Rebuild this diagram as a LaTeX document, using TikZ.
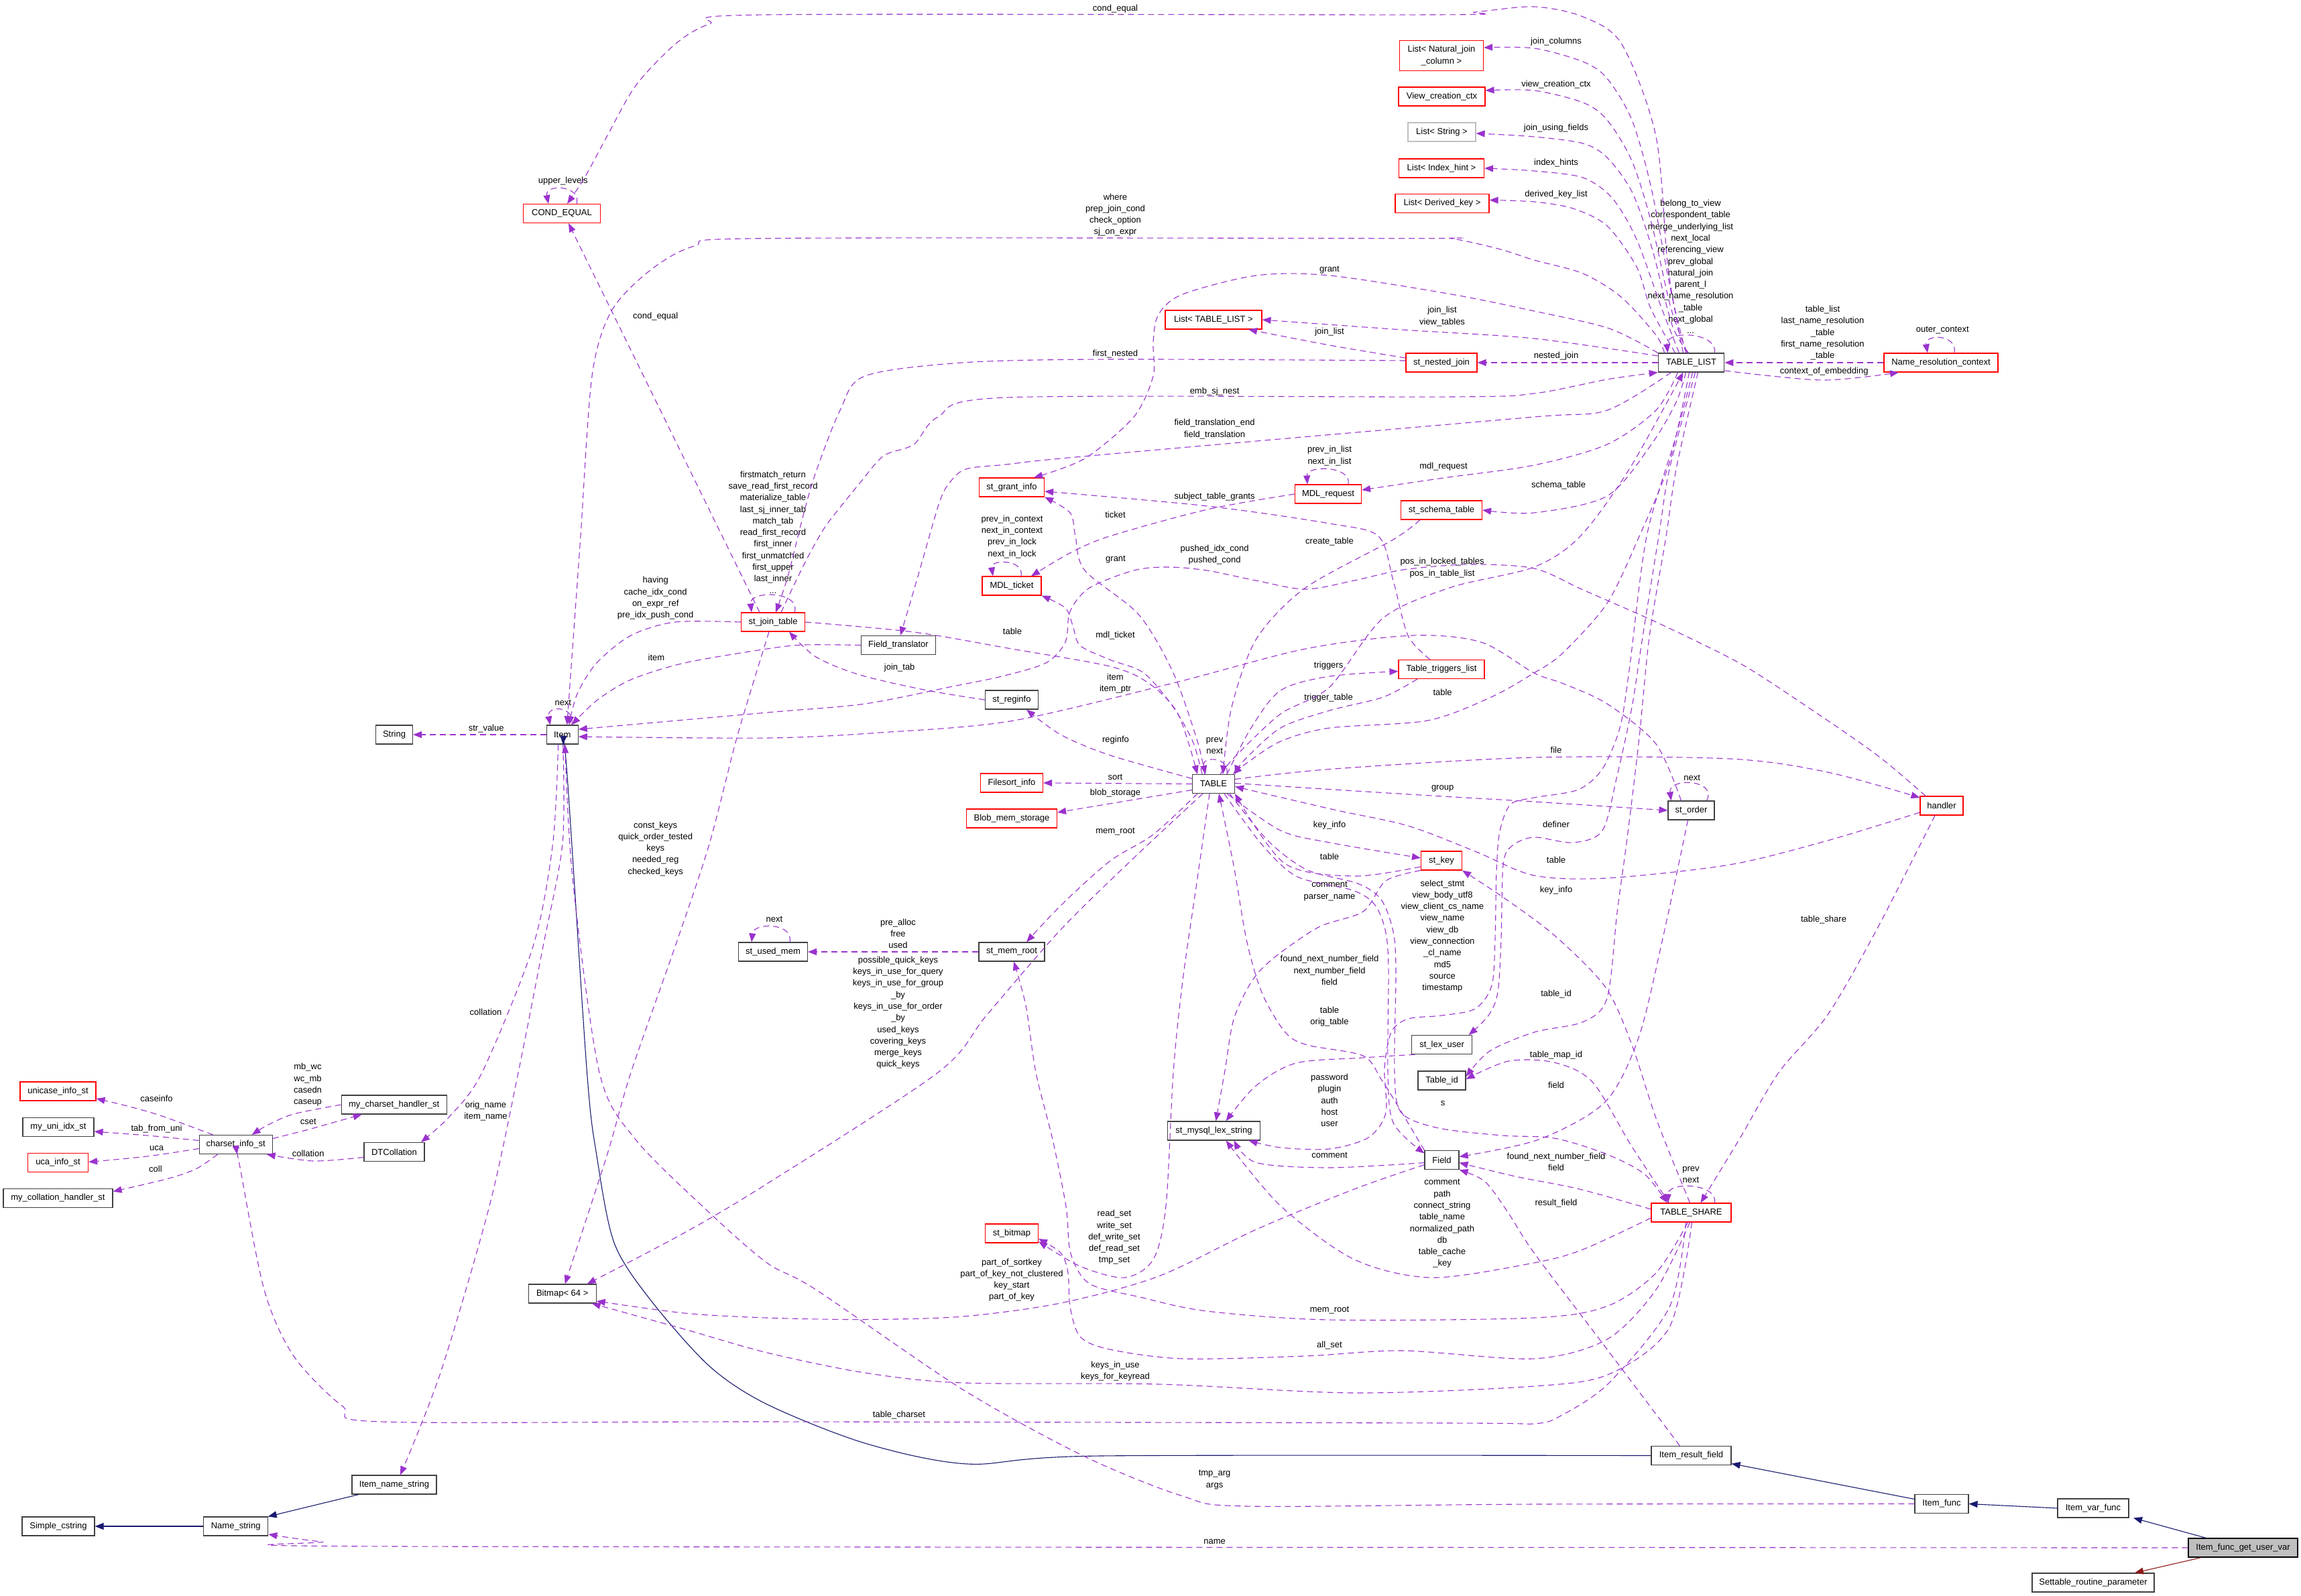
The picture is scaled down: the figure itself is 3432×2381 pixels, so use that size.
\documentclass[tikz,border=0pt]{standalone}
\usepackage{fontspec}
\setmainfont{Liberation Sans}
\usetikzlibrary{arrows.meta}
\definecolor{edgec}{HTML}{9A32CD}
\definecolor{inhc}{HTML}{191970}
\definecolor{privc}{HTML}{8B1A1A}
\definecolor{redb}{HTML}{FF0000}
\definecolor{grayb}{HTML}{BFBFBF}
\definecolor{blackb}{HTML}{404040}
\begin{document}
\begin{tikzpicture}[x=1bp,y=-1bp,
  every node/.style={font=\fontsize{13.05}{17.35}\selectfont},
  cls/.style={draw=blackb, line width=1.1bp, minimum height=28bp, inner sep=0pt, fill=white},
  rcls/.style={cls, draw=redb},
  gcls/.style={cls, draw=grayb},
  lb/.style={align=center, inner sep=0pt},
  coll/.style={draw=edgec, line width=1.1bp, dash pattern=on 9bp off 6bp, -{Triangle[length=13bp,width=10bp]}},
  inher/.style={draw=inhc, line width=1.1bp, -{Triangle[length=13bp,width=10bp]}},
  priv/.style={draw=privc, line width=1.1bp, -{Triangle[length=13bp,width=10bp]}}]
\fill[white] (0,0) rectangle (3432,2381);
\useasboundingbox (0,0) rectangle (3432,2381);

% ---------------- nodes ----------------
\node[rcls, minimum width=115bp] (condeq) at (838,318.6) {COND\_EQUAL};
\node[rcls, minimum width=125bp, minimum height=45.5bp, align=center] (lnjc) at (2150,83) {List< Natural\_join\\\_column >};
\node[rcls, minimum width=129bp] (vcc) at (2150.5,144) {View\_creation\_ctx};
\node[gcls, minimum width=101bp] (lstr) at (2150.5,197) {List< String >};
\node[rcls, minimum width=127bp] (lih) at (2150,251) {List< Index\_hint >};
\node[rcls, minimum width=140bp] (ldk) at (2151,303.5) {List< Derived\_key >};
\node[rcls, minimum width=144bp] (ltl) at (1810,477) {List< TABLE\_LIST >};
\node[rcls, minimum width=106bp] (nj) at (2150,541) {st\_nested\_join};
\node[cls, minimum width=98.5bp] (tl) at (2522.5,541) {TABLE\_LIST};
\node[rcls, minimum width=170bp] (nrc) at (2895,541) {Name\_resolution\_context};
\node[rcls, minimum width=97bp] (gi) at (1509,727) {st\_grant\_info};
\node[rcls, minimum width=99bp] (mreq) at (1981,737) {MDL\_request};
\node[rcls, minimum width=121bp] (schema) at (2150,761) {st\_schema\_table};
\node[rcls, minimum width=95bp] (jt) at (1153,928) {st\_join\_table};
\node[cls, minimum width=111bp] (ft) at (1340,962.5) {Field\_translator};
\node[rcls, minimum width=88bp] (mtk) at (1509,874) {MDL\_ticket};
\node[cls, minimum width=79bp] (reg) at (1509,1044) {st\_reginfo};
\node[rcls, minimum width=128bp] (ttl) at (2150,998.5) {Table\_triggers\_list};
\node[cls, minimum width=63bp] (table) at (1810,1169.5) {TABLE};
\node[rcls, minimum width=93bp] (fsi) at (1509,1168) {Filesort\_info};
\node[rcls, minimum width=135bp] (bms) at (1509,1221) {Blob\_mem\_storage};
\node[rcls, minimum width=61bp] (key) at (2150,1284) {st\_key};
\node[cls, minimum width=103bp] (um) at (1153,1420) {st\_used\_mem};
\node[cls, minimum width=98bp] (mr) at (1509,1420) {st\_mem\_root};
\node[rcls, minimum width=64bp] (hdl) at (2896,1202) {handler};
\node[cls, minimum width=69bp] (ord) at (2522.5,1209) {st\_order};
\node[cls, minimum width=47bp] (item) at (838.7,1096) {Item};
\node[cls, minimum width=55bp] (str) at (588,1096) {String};
\node[cls, minimum width=89.5bp] (lu) at (2150.6,1558.6) {st\_lex\_user};
\node[cls, minimum width=71bp] (tid) at (2150.5,1612) {Table\_id};
\node[cls, minimum width=51bp] (field) at (2150.5,1730.6) {Field};
\node[rcls, minimum width=119bp] (ts) at (2522.5,1809) {TABLE\_SHARE};
\node[cls, minimum width=138bp] (mls) at (1810.5,1687) {st\_mysql\_lex\_string};
\node[rcls, minimum width=79bp] (bmp) at (1509,1840) {st\_bitmap};
\node[cls, minimum width=101bp] (b64) at (838.7,1930) {Bitmap< 64 >};
\node[rcls, minimum width=113bp] (uci) at (86.5,1628) {unicase\_info\_st};
\node[cls, minimum width=106bp] (uix) at (87,1681.5) {my\_uni\_idx\_st};
\node[rcls, minimum width=90bp] (uca) at (86.5,1734.5) {uca\_info\_st};
\node[cls, minimum width=163bp] (mch) at (86.5,1787.5) {my\_collation\_handler\_st};
\node[cls, minimum width=109bp] (csi) at (351.7,1707.5) {charset\_info\_st};
\node[cls, minimum width=157bp] (mcs) at (587.7,1648) {my\_charset\_handler\_st};
\node[cls, minimum width=90bp] (dtc) at (588,1718.5) {DTCollation};
\node[cls, minimum width=126bp] (ins) at (588,2215) {Item\_name\_string};
\node[cls, minimum width=96bp] (nms) at (351.7,2277) {Name\_string};
\node[cls, minimum width=108bp] (scs) at (87,2277) {Simple\_cstring};
\node[cls, minimum width=119bp] (irf) at (2522.5,2171.5) {Item\_result\_field};
\node[cls, minimum width=80bp] (ifn) at (2896,2243.5) {Item\_func};
\node[cls, minimum width=106bp] (ivf) at (3122,2250) {Item\_var\_func};
\node[cls, minimum width=163bp, fill=grayb, draw=black] (main) at (3345.5,2309) {Item\_func\_get\_user\_var};
\node[cls, minimum width=182bp] (srp) at (3122,2361) {Settable\_routine\_parameter};

% ---------------- labels ----------------
\node[lb] (t01) at (1663.5,12.8) {cond\_equal};
\node[lb] (t02) at (839.8,270.4) {upper\_levels};
\node[lb] (t03) at (977.7,472.4) {cond\_equal};
\node[lb] (t04) at (1663.5,320.7) {where\\prep\_join\_cond\\check\_option\\sj\_on\_expr};
\node[lb] (t05) at (2321,62.2) {join\_columns};
\node[lb] (t06) at (2321,126.5) {view\_creation\_ctx};
\node[lb] (t07) at (2321,191.3) {join\_using\_fields};
\node[lb] (t08) at (2321,243.4) {index\_hints};
\node[lb] (t09) at (2321,290.3) {derived\_key\_list};
\node[lb] (t10) at (2521.5,398) {belong\_to\_view\\correspondent\_table\\merge\_underlying\_list\\next\_local\\referencing\_view\\prev\_global\\natural\_join\\parent\_l\\next\_name\_resolution\\\_table\\next\_global\\...};
\node[lb] (t11) at (1983,403) {grant};
\node[lb] (t12) at (2151,472) {join\_list\\view\_tables};
\node[lb] (t13) at (1983,495) {join\_list};
\node[lb] (t14) at (2321,531.6) {nested\_join};
\node[lb] (t15) at (1663.5,527.6) {first\_nested};
\node[lb] (t16) at (1811.6,584.2) {emb\_sj\_nest};
\node[lb] (t17) at (1811.6,640) {field\_translation\_end\\field\_translation};
\node[lb] (t18) at (979,980.6) {item};
\node[lb] (t19) at (977.7,892.3) {having\\cache\_idx\_cond\\on\_expr\_ref\\pre\_idx\_push\_cond};
\node[lb] (t20) at (839.8,1048) {next};
\node[lb] (t21) at (725.2,1086.7) {str\_value};
\node[lb] (t22) at (1664,834.7) {grant};
\node[lb] (t23) at (1663.5,948.5) {mdl\_ticket};
\node[lb] (t24) at (1983,807.7) {create\_table};
\node[lb] (t25) at (2324.5,724.5) {schema\_table};
\node[lb] (t26) at (2153,696.4) {mdl\_request};
\node[lb] (t27) at (1983,680.1) {prev\_in\_list\\next\_in\_list};
\node[lb] (t28) at (1663.5,767.9) {ticket};
\node[lb] (t29) at (1509.5,800.8) {prev\_in\_context\\next\_in\_context\\prev\_in\_lock\\next\_in\_lock};
\node[lb] (t30) at (1811.6,740.8) {subject\_table\_grants};
\node[lb] (t31) at (1981.6,992.9) {triggers};
\node[lb] (t32) at (1981.6,1040.8) {trigger\_table};
\node[lb] (t33) at (2151.6,1032.7) {table};
\node[lb] (t34) at (2151,847) {pos\_in\_locked\_tables\\pos\_in\_table\_list};
\node[lb] (t35) at (1811.6,1112.5) {prev\\next};
\node[lb] (t36) at (1664,1104) {reginfo};
\node[lb] (t37) at (1341.7,995.7) {join\_tab};
\node[lb] (t38) at (1510,942.3) {table};
\node[lb] (t39) at (1663.5,1159.7) {sort};
\node[lb] (t40) at (1663.5,1182.7) {blob\_storage};
\node[lb] (t41) at (1663.5,1240.3) {mem\_root};
\node[lb] (t42) at (1339.5,1392.9) {pre\_alloc\\free\\used};
\node[lb] (t43) at (1155,1371) {next};
\node[lb] (t44) at (1339.5,1510.7) {possible\_quick\_keys\\keys\_in\_use\_for\_query\\keys\_in\_use\_for\_group\\\_by\\keys\_in\_use\_for\_order\\\_by\\used\_keys\\covering\_keys\\merge\_keys\\quick\_keys};
\node[lb] (t45) at (977.7,1266.3) {const\_keys\\quick\_order\_tested\\keys\\needed\_reg\\checked\_keys};
\node[lb] (t46) at (724.5,1510.2) {collation};
\node[lb] (t47) at (724.5,1657.5) {orig\_name\\item\_name};
\node[lb] (t49) at (1811.6,2207.5) {tmp\_arg\\args};
\node[lb] (t50) at (1811.6,2299.7) {name};
\node[lb] (t57) at (233.5,1639.3) {caseinfo};
\node[lb] (t58) at (233.5,1684.2) {tab\_from\_uni};
\node[lb] (t59) at (233.5,1713) {uca};
\node[lb] (t60) at (232,1743.4) {coll};
\node[lb] (t61) at (459.7,1673.2) {cset};
\node[lb] (t62) at (459,1618.5) {mb\_wc\\wc\_mb\\casedn\\caseup};
\node[lb] (t63) at (459.7,1720.5) {collation};
\node[lb] (t64) at (1341,2111.5) {table\_charset};
\node[lb] (t65) at (2151,1825.6) {comment\\path\\connect\_string\\table\_name\\normalized\_path\\db\\table\_cache\\\_key};
\node[lb] (t66) at (1983,1723.5) {comment};
\node[lb] (t67) at (1983,1329.6) {comment\\parser\_name};
\node[lb] (t68) at (1983,1641.5) {password\\plugin\\auth\\host\\user};
\node[lb] (t69) at (2151.4,1396.5) {select\_stmt\\view\_body\_utf8\\view\_client\_cs\_name\\view\_name\\view\_db\\view\_connection\\\_cl\_name\\md5\\source\\timestamp};
\node[lb] (t70) at (2321,1230) {definer};
\node[lb] (t71) at (2321,1482.7) {table\_id};
\node[lb] (t72) at (2321,1574.5) {table\_map\_id};
\node[lb] (t73) at (2321,1618.4) {field};
\node[lb] (t74) at (2321,1733.5) {found\_next\_number\_field\\field};
\node[lb] (t75) at (2321,1795.2) {result\_field};
\node[lb] (t76) at (1509,1909.6) {part\_of\_sortkey\\part\_of\_key\_not\_clustered\\key\_start\\part\_of\_key};
\node[lb] (t77) at (1662,1846) {read\_set\\write\_set\\def\_write\_set\\def\_read\_set\\tmp\_set};
\node[lb] (t78) at (1983,1955) {mem\_root};
\node[lb] (t79) at (1983,2006.9) {all\_set};
\node[lb] (t80) at (1663.5,2045.7) {keys\_in\_use\\keys\_for\_keyread};
\node[lb] (t81) at (2720,1372.4) {table\_share};
\node[lb] (t82) at (2321,1118.9) {file};
\node[lb] (t83) at (2321,1283.2) {table};
\node[lb] (t84) at (2151.6,1176) {group};
\node[lb] (t85) at (2523.7,1160.7) {next};
\node[lb] (t86) at (1663.5,1019.9) {item\\item\_ptr};
\node[lb] (t87) at (1811.6,827.8) {pushed\_idx\_cond\\pushed\_cond};
\node[lb] (t88) at (2718.5,496.8) {table\_list\\last\_name\_resolution\\\_table\\first\_name\_resolution\\\_table};
\node[lb] (t89) at (2720.7,554.6) {context\_of\_embedding};
\node[lb] (t90) at (2897.2,492.3) {outer\_context};
\node[lb] (t91) at (1153,793.9) {firstmatch\_return\\save\_read\_first\_record\\materialize\_table\\last\_sj\_inner\_tab\\match\_tab\\read\_first\_record\\first\_inner\\first\_unmatched\\first\_upper\\last\_inner\\...};
\node[lb] (t93) at (1983,1231) {key\_info};
\node[lb] (t94) at (1983,1278) {table};
\node[lb] (t95) at (2321,1328.6) {key\_info};
\node[lb] (t96) at (1983,1447.4) {found\_next\_number\_field\\next\_number\_field\\field};
\node[lb] (t97) at (2152,1646.3) {s};
\node[lb] (t98) at (1983,1516.3) {table\\orig\_table};
\node[lb] (t99) at (2522,1752.5) {prev\\next};

% ---------------- edges ----------------
% TABLE_LIST -> COND_EQUAL
\draw[coll] plot[smooth] coordinates {([xshift=-12bp]tl.north) (2488,400) (2470,204) (2419,66) (2361,25) (2288,10) (2200,18) (2140,22) (1144,22) (1058,36) (1007,66) (948,128) (905,204) (872,265) ([xshift=8bp]condeq.north)};
\draw[coll] ([xshift=22bp]condeq.north) .. controls (868,276) and (812,274) .. ([xshift=-20bp]condeq.north);
\draw[coll] ([xshift=-20bp]jt.north) -- ([xshift=10bp]condeq.south);
% where ...
\draw[coll] plot[smooth] coordinates {([xshift=-40bp]tl.north) (2470,500) (2419,444) (2361,408) (2288,388) (2238,372) (2165,356) (2100,355.6) (1144,355.6) (1036,367) (970,403) (912,464) (883,561) (866,800) (855,953) ([xshift=7bp]item.north)};
% lists
\draw[coll] plot[smooth] coordinates {([xshift=-8bp]tl.north) (2492,434) (2463,281) (2434,179) (2397,117) (2361,92) (2288,72) ([yshift=12bp]lnjc.east)};
\draw[coll] plot[smooth] coordinates {([xshift=-6bp]tl.north) (2492,459) (2463,332) (2434,240) (2397,179) (2361,153) (2288,135) ([yshift=9bp]vcc.east)};
\draw[coll] plot[smooth] coordinates {([xshift=-4bp]tl.north) (2494,485) (2463,367) (2434,286) (2397,235) (2361,214) (2288,204) ([yshift=-2bp]lstr.east)};
\draw[coll] plot[smooth] coordinates {([xshift=-18bp]tl.north) (2478,459) (2441,357) (2405,296) (2361,265) (2288,255) (lih.east)};
\draw[coll] plot[smooth] coordinates {([xshift=-24bp]tl.north) (2462,460) (2441,398) (2397,337) (2346,311) (2288,301) ([yshift=5bp]ldk.east)};
% TABLE_LIST self loop
\draw[coll] ([xshift=35bp]tl.north) .. controls (2562,495) and (2484,492) .. ([xshift=-35bp]tl.north);
% grant (TABLE_LIST)
\draw[coll] plot[smooth] coordinates {(tl.north west) (2400,490) (2288,464) (2165,439) (1983,411) (1874,411) (1764,439) (1728,469) (1720,510) (1720,561) (1691,622) (1618,684) ([xshift=33bp]gi.north)};
\draw[coll] plot[smooth] coordinates {([yshift=10bp]tl.west) (2288,505) (2092,492) (ltl.east)};
\draw[coll] plot[smooth] coordinates {([yshift=7bp]nj.west) (1983,515) ([xshift=52bp]ltl.south)};
\draw[coll] (tl.west) -- (nj.east);
% first_nested
\draw[coll] plot[smooth] coordinates {([yshift=3bp]nj.west) (1655,536) (1436,541) (1290,561) (1253,612) (1217,704) (1199,765) (1175,860) ([xshift=4bp]jt.north)};
% emb_sj_nest
\draw[coll] plot[smooth] coordinates {([xshift=12bp]jt.north) (1187,867) (1207,827) (1230,787) (1253,757) (1283,720) (1318,680) (1363,663) (1399,622) (1501.5,593) (2165,592) (2288,587) (2397,566) (tl.south west)};
% field_translation
\draw[coll] plot[smooth] coordinates {([xshift=-30bp]tl.south) (2397,612) (2288,622) (1874,658) (1582,684) (1500,693) (1440,700) (1415,722) (1400,753) (1367,867) ([xshift=3bp]ft.north)};
% item (Field_translator)
\draw[coll] plot[smooth] coordinates {(ft.west) (1200,962) (1144,968) (1021,989) (941,1014) (890,1045) ([xshift=14bp]item.north)};
% having ...
\draw[coll] plot[smooth] coordinates {(jt.west) (1007,928) (941,948) (890,989) (861,1035) ([xshift=10bp]item.north)};
% Item self loop
\draw[coll] ([xshift=14bp]item.north) .. controls (858,1052) and (815,1052) .. ([xshift=-18bp]item.north);
\draw[coll] (item.west) -- (str.east);
% grant (TABLE)
\draw[coll] plot[smooth] coordinates {([xshift=-13bp]table.north) (1786,1106) (1750,1004) (1698.5,917) (1618,851) (1604,800) (1596,765) (gi.south east)};
% mdl_ticket
\draw[coll] plot[smooth] coordinates {([xshift=-17bp]table.north) (1779,1106) (1750,1055) (1706,1004) (1655,984) (1611,963) (1600,933) (1589,907) (mtk.south east)};
% create_table
\draw[coll] plot[smooth] coordinates {([xshift=-32bp]schema.south) (2078,805) (1947,877) (1874,953) (1837,1055) ([xshift=14bp]table.north)};
% schema_table
\draw[coll] plot[smooth] coordinates {([xshift=-8bp]tl.south) (2500,600) (2463,663) (2397,740) (2288,765) (schema.east)};
% mdl_request
\draw[coll] plot[smooth] coordinates {([xshift=-20bp]tl.south) (2470,612) (2397,663) (2288,694) (2153,713) ([yshift=6bp]mreq.east)};
\draw[coll] ([xshift=30bp]mreq.north) .. controls (2016,694) and (1948,694) .. ([xshift=-31bp]mreq.north);
% ticket
\draw[coll] plot[smooth] coordinates {(mreq.west) (1801,760) (1655,800) (1596,825) ([xshift=29bp]mtk.north)};
\draw[coll] ([xshift=14bp]mtk.north) .. controls (1528,834) and (1477,834) .. ([xshift=-28bp]mtk.north);
% subject_table_grants
\draw[coll] plot[smooth] coordinates {([xshift=-17bp]ttl.north) (2100,948) (2078,866) (2056,800) (1983,781) (1801,755) ([yshift=-6bp]gi.east)};
% triggers / trigger_table
\draw[coll] plot[smooth] coordinates {([xshift=20bp]table.north) (1866,1086) (1910,1030) (1983,1009) ([yshift=-3bp]ttl.west)};
\draw[coll] plot[smooth] coordinates {([xshift=-36bp]ttl.south) (2063,1040) (1983,1060) (1910,1086) (1855,1135) (table.north east)};
% table (TABLE_LIST -> TABLE)
\draw[coll] plot[smooth] coordinates {([xshift=-3bp]tl.south) (2490,690) (2445,800) (2397,900) (2330,975) (2288,1004) (2224,1040) (2129,1075) (1983,1086) (1910,1106) (1860,1138) ([xshift=-3bp]table.north east)};
% pos_in_*
\draw[coll] plot[smooth] coordinates {([xshift=10bp]table.north) (1844,1127) (1910,1065) (1983,1025) (2063,922) (2165,876) (2288,846) (2357,800) (2430,700) ([xshift=-12bp]tl.south)};
% TABLE self loop
\draw[coll] ([xshift=20bp]table.north) .. controls (1834,1128) and (1792,1128) .. ([xshift=-12bp]table.north);
% reginfo, join_tab, table
\draw[coll] plot[smooth] coordinates {([yshift=8bp]table.west) (1655,1126.5) (1582,1096) ([xshift=22bp]reg.south)};
\draw[coll] plot[smooth] coordinates {(reg.west) (1383,1030) (1283,1007) (1217,980) ([xshift=24bp]jt.south)};
\draw[coll] plot[smooth] coordinates {(jt.east) (1363,943) (1509,968) (1655,994) (1713,1019) (1757,1065) ([xshift=-24bp]table.north)};
\draw[coll] (table.west) -- (fsi.east);
\draw[coll] ([yshift=-9bp]table.west) -- ([yshift=9bp]bms.east);
% mem_root (TABLE)
\draw[coll] plot[smooth] coordinates {([xshift=-24bp]table.south) (1720,1245) (1655,1285) (1582,1351) ([xshift=22bp]mr.north)};
\draw[coll] (mr.west) -- (um.east);
\draw[coll] ([xshift=25bp]um.north) .. controls (1184,1376) and (1124,1376) .. ([xshift=-32bp]um.north);
% possible_quick_keys
\draw[coll] plot[smooth] coordinates {([xshift=-16bp]table.south) (1691,1280) (1582,1387) (1472,1514) (1399,1600) (1144,1766) (1021,1839) ([xshift=37bp]b64.north)};
% const_keys
\draw[coll] plot[smooth] coordinates {([xshift=-6bp]jt.south) (1100,1097) (1058,1259) (1007,1412) (941,1600) (905,1724.5) ([xshift=4bp]b64.north)};
% collation (Item)
\draw[coll] plot[smooth] coordinates {([xshift=-6bp]item.south) (824.5,1259) (795,1412) (719,1600) (671,1665) ([xshift=40bp]dtc.north)};
% orig_name
\draw[coll] plot[smooth] coordinates {([xshift=1bp]item.south) (839,1259) (810,1412) (773,1600) (730,1799) (657,2048) ([xshift=9bp]ins.north)};
% inheritance Item_result_field -> Item
\draw[inher] plot[smooth] coordinates {(irf.west) (1640,2172) (1443,2184) (1290,2153) (1144,2095) (1058,2038) (970,1939) (916,1854) (890,1724) (875.5,1600) (846,1157) ([xshift=1bp]item.south)};
% tmp_arg args
\draw[coll] plot[smooth] coordinates {(ifn.west) (2288,2244) (1859,2247) (1764,2232) (1618,2173) (1436,2073) (1217,1924) (1144,1884) (1058,1809) (948,1700) (894,1600) (854,1310) ([xshift=4bp]item.south)};
% name
\draw[coll] plot[smooth] coordinates {(main.west) (600,2307) (480,2300) ([yshift=-12bp]nms.east)};
% inheritance chain
\draw[inher] ([xshift=-55bp]main.north) -- ([xshift=60bp]ivf.south);
\draw[priv] ([xshift=-62bp]main.south) -- ([xshift=62bp]srp.north);
\draw[inher] (ivf.west) -- (ifn.east);
\draw[inher] ([yshift=7bp]ifn.west) -- ([yshift=-12bp]irf.east);
\draw[inher] ([xshift=-53bp]ins.south) -- ([xshift=48bp]nms.north);
\draw[inher] (nms.west) -- (scs.east);
% charset cluster
\draw[coll] plot[smooth] coordinates {([xshift=-34bp]csi.north) (240.8,1664.7) (190,1650) ([yshift=-11bp]uci.east)};
\draw[coll] plot[smooth] coordinates {([yshift=6bp]csi.west) (220,1694) ([yshift=-6.5bp]uix.east)};
\draw[coll] plot[smooth] coordinates {([yshift=-6bp]csi.west) (220,1725) ([yshift=1bp]uca.east)};
\draw[coll] plot[smooth] coordinates {([xshift=-27bp]csi.south) (292,1744) (248,1759) ([yshift=10bp]mch.east)};
\draw[coll] plot[smooth] coordinates {([yshift=9bp]csi.east) (460,1685) ([xshift=-48bp]mcs.south)};
\draw[coll] plot[smooth] coordinates {(mcs.west) (437.8,1662) (400,1678) ([xshift=24bp]csi.north)};
\draw[coll] plot[smooth] coordinates {([yshift=-8bp]dtc.west) (467,1732) ([xshift=46bp]csi.south)};
% table_charset
\draw[coll] plot[smooth] coordinates {([xshift=-8bp]ts.south) (2490,1950) (2400,2063) (2330,2111) (2288,2124) (2165,2123) (1144,2121) (569,2121) (511,2098) (438,2023) (394,1924) (357.5,1739) ([xshift=2bp]csi.south)};
% comment path ... (TABLE_SHARE)
\draw[coll] plot[smooth] coordinates {([yshift=-8bp]ts.west) (2361,1864) (2288,1884) (2136,1906) (2020,1879) (1910,1799) ([xshift=18bp]mls.south)};
% comment (Field)
\draw[coll] plot[smooth] coordinates {([yshift=-4bp]field.west) (1983,1742) (1874,1734.5) ([xshift=30bp]mls.south)};
% comment parser_name (st_key)
\draw[coll] plot[smooth] coordinates {(key.south west) (2067,1314) (2033,1360) (1967,1383) (1900,1429) (1867,1464) (1840,1521) (1827,1597) ([xshift=3bp]mls.north)};
% password ... (st_lex_user)
\draw[coll] plot[smooth] coordinates {([xshift=-40bp]lu.south) (2033,1578) (1933,1586) (1873,1620) ([xshift=18bp]mls.north)};
% select_stmt ...
\draw[coll] plot[smooth] coordinates {([xshift=2bp]tl.south) (2500,650) (2456,800) (2430,1000) (2416,1086) (2390,1147) (2354,1178) (2288,1190) (2253,1200) (2237,1240) (2232,1300) (2230,1400) (2225,1470) (2200,1505) (2150,1515) (2100,1520) (2075,1540) (2065,1594) (2067,1660) (2041,1697) (1983,1714) (1910,1712) ([xshift=52bp]mls.south)};
% definer
\draw[coll] plot[smooth] coordinates {([xshift=6bp]tl.south) (2490,700) (2474,800) (2450,950) (2434,1055) (2412,1157) (2390,1239) (2346,1257) (2288,1249) (2255,1262) (2242,1290) (2239,1400) (2234,1480) (2220,1515) ([xshift=40bp]lu.north)};
% table_id
\draw[coll] plot[smooth] coordinates {([xshift=10bp]tl.south) (2500,700) (2485,800) (2460,950) (2445,1100) (2427,1250) (2412,1361) (2397,1489) (2361,1524.5) (2288,1540) (2222,1568) ([yshift=6bp]tid.east)};
% table_map_id
\draw[coll] plot[smooth] coordinates {([xshift=-33bp]ts.north) (2433,1709) (2375,1614) (2318,1585) (2250,1583) ([yshift=2bp]tid.east)};
% field (st_order)
\draw[coll] plot[smooth] coordinates {([xshift=-5bp]ord.south) (2480,1400) (2444,1548) (2394,1644) (2295,1700) ([yshift=5bp]field.east)};
% found_next_number_field field (TABLE_SHARE)
\draw[coll] plot[smooth] coordinates {([yshift=5bp]ts.west) (2356,1774) (2260,1755) ([yshift=-4bp]field.east)};
% result_field
\draw[coll] plot[smooth] coordinates {([xshift=-17bp]irf.north) (2397,2013) (2288,1869) (2250,1810) (2215,1763) (field.south east)};
% part_of_sortkey ...
\draw[coll] plot[smooth] coordinates {([yshift=-7bp]field.west) (2020,1774) (1874,1834) (1728,1904) (1582,1944) (1436,1964) (1290,1968.5) (1144,1966) (1021,1959) ([yshift=-11bp]b64.east)};
% read_set ...
\draw[coll] plot[smooth] coordinates {([xshift=-6bp]table.south) (1786,1310) (1764,1463) (1750,1600) (1739,1799) (1720,1879) (1677,1906) (1611,1889) ([yshift=-12bp]bmp.east)};
% mem_root (TABLE_SHARE)
\draw[coll] plot[smooth] coordinates {([xshift=-5bp]ts.south) (2470,1899) (2397,1948.6) (2288,1966) (1983,1969) (1800,1956) (1700,1935) (1625,1915) (1597,1870) (1590,1800) (1570,1700) (1545,1600) (1530,1500) ([xshift=3bp]mr.south)};
% all_set
\draw[coll] plot[smooth] coordinates {([xshift=-2bp]ts.south) (2470,1924) (2397,1998) (2288,2027) (2092,2015) (1947,2023) (1764,2027) (1655,2013) (1611,1994) (1596,1949) (1593,1899) (1582,1869) ([yshift=-8bp]bmp.east)};
% keys_in_use
\draw[coll] plot[smooth] coordinates {([xshift=1bp]ts.south) (2490,1980) (2400,2050) (2288,2068) (2020,2078) (1728,2065) (1436,2063) (1290,2048) (1144,2018) (1021,1983) ([xshift=44bp]b64.south)};
% table_share (handler)
\draw[coll] plot[smooth] coordinates {([xshift=-10bp]hdl.south) (2799,1387) (2726,1514) (2653,1600) (2594,1700) ([xshift=14bp]ts.north)};
% file
\draw[coll] plot[smooth] coordinates {([yshift=7bp]table.east) (1990,1147) (2288,1130) (2580,1132) (2726,1152) ([yshift=12bp]hdl.west)};
% table (handler -> TABLE)
\draw[coll] plot[smooth] coordinates {([yshift=-10bp]hdl.west) (2726,1254) (2580,1290) (2397,1310) (2288,1306) (2200,1270) (2100,1232) (1990,1208) ([yshift=-4bp]table.east)};
% group
\draw[coll] plot[smooth] coordinates {([yshift=1bp]table.east) (1990,1178) (2151,1188) (2288,1196) (ord.west)};
\draw[coll] ([xshift=-12bp]ord.north east) .. controls (2562,1162) and (2488,1160) .. ([xshift=-30bp]ord.north);
% item item_ptr
\draw[coll] plot[smooth] coordinates {([xshift=-15bp]ord.north) (2470,1110) (2397,1050) (2332,1020) (2288,1004) (2209,958) (2107,948) (1947,968) (1750,1019) (1509,1075.5) (1312,1093) (1144,1101) ([yshift=-3bp]item.east)};
% pushed_idx_cond
\draw[coll] plot[smooth] coordinates {([xshift=-24bp]hdl.north) (2799,1126) (2689,1050) (2594,989) (2470,928) (2361,880) (2288,848) (2190,842) (2093,850) (2020,866) (1947,879) (1873,866) (1800,851) (1742,846) (1691,851) (1625,877) (1596,912) (1589,958) (1560,989) (1494,1009) (1421,1024) (1290,1050) (1144,1063) ([yshift=8bp]item.east)};
% Name_resolution_context
\draw[coll] (nrc.west) -- (tl.east);
\draw[coll] plot[smooth] coordinates {([yshift=-12bp]tl.east) (2718,567) ([xshift=-63bp]nrc.south)};
\draw[coll] ([xshift=20bp]nrc.north) .. controls (2920,498) and (2870,498) .. ([xshift=-20bp]nrc.north);
% st_join_table self loop
\draw[coll] ([xshift=32bp]jt.north) .. controls (1196,882) and (1117,880) .. ([xshift=-32bp]jt.north);
% st_key
\draw[coll] plot[smooth] coordinates {([xshift=-12bp]table.south east) (1910,1239) (1983,1257) ([yshift=4bp]key.west)};
\draw[coll] plot[smooth] coordinates {([yshift=-9bp]key.west) (2020,1307) (1916,1288) (table.south east)};
\draw[coll] plot[smooth] coordinates {([xshift=-2bp]ts.north) (2471,1671) (2433,1556) (2394,1472) (2318,1395) (2241,1338) (key.south east)};
% found_next_number_field ... (TABLE -> Field)
\draw[coll] plot[smooth] coordinates {([xshift=16bp]table.south) (1883,1261) (1935,1308) (2017,1328) (2050,1349) (2066,1387) (2071,1444) (2070,1597) (2078,1675) ([yshift=10bp]field.west)};
% s (TABLE -> TABLE_SHARE)
\draw[coll] plot[smooth] coordinates {([xshift=24bp]table.south) (1892,1255) (1950,1298) (2025,1318) (2060,1342) (2078,1390) (2082,1450) (2080,1600) (2090,1660) (2146,1683) (2241,1694) (2318,1698) (2394,1721) (2452,1751) ([xshift=-36bp]ts.north)};
% table orig_table (Field -> TABLE)
\draw[coll] plot[smooth] coordinates {(field.north west) (2085,1650) (2060,1610) (2033,1575) (1950,1559) (1917,1540) (1883,1483) (1860,1406) (1840,1291) ([xshift=8bp]table.south)};
% TABLE_SHARE self loop
\draw[coll] ([xshift=35bp]ts.north) .. controls (2562,1765) and (2488,1762) .. ([xshift=-35bp]ts.north);
\end{tikzpicture}
\end{document}
